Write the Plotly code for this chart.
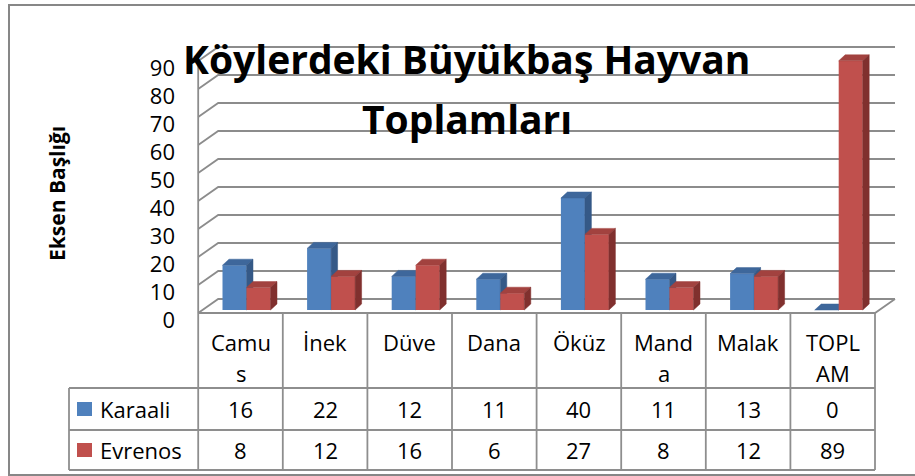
import plotly.graph_objects as go

# ---- data -------------------------------------------------------------
CATEGORIES = ["Camus", "İnek", "Düve", "Dana", "Öküz", "Manda", "Malak", "TOPLAM"]
SERIES_NAMES = ["Karaali", "Evrenos"]
KARAALI = [16, 22, 12, 11, 40, 11, 13, 0]
EVRENOS = [8, 12, 16, 6, 27, 8, 12, 89]
Y_TICKS = [0, 10, 20, 30, 40, 50, 60, 70, 80, 90]
TITLE_LINES = ["Köylerdeki Büyükbaş Hayvan", "Toplamları"]
Y_TITLE = "Eksen Başlığı"

# ---- page / geometry (pixels) ----------------------------------------
W, H = 915, 476
FONT = "Open Sans"
X_COL0, X_STEP = 240.5, 84.6      # pixel centre of first category, column width
Y_FLOOR, Y_UNIT = 313.0, 2.8      # pixel of value 0 on the front plane, px per unit
DOM_PX_X = (190, 910)
DOM_PX_Y = (35, 318)

# depth of the 3D box (back wall offset) in data units
WALL_DX = 20.0 / X_STEP
WALL_DY = 14.0 / Y_UNIT
# bar geometry in data units
BAR_W = 24.0 / X_STEP
BAR_SHIFT = 6.0 / X_STEP
BAR_BASE = 3.0 / Y_UNIT
BAR_DX = 6.5 / X_STEP
BAR_DY = 6.0 / Y_UNIT

BLUE = dict(front="#4F81BD", top="#3E679B", side="#355987")
RED = dict(front="#C0504D", top="#A2423F", side="#80302E")
GRID = "#8C8C8C"
TABLE_LINE = "#8E8E8E"


def px_x(px):
    return px / W


def px_y(py):
    return 1 - py / H


def data_x(px):
    return (px - X_COL0) / X_STEP


def data_y(py):
    return (Y_FLOOR - py) / Y_UNIT


x_range = [data_x(DOM_PX_X[0]), data_x(DOM_PX_X[1])]
y_range = [data_y(DOM_PX_Y[1]), data_y(DOM_PX_Y[0])]
x_domain = [px_x(DOM_PX_X[0]), px_x(DOM_PX_X[1])]
y_domain = [px_y(DOM_PX_Y[1]), px_y(DOM_PX_Y[0])]

# approximate advance widths (em) used to wrap the header cells
CHAR_EM = {"C": .631, "a": .556, "m": .929, "u": .623, "s": .487, "M": .885,
           "n": .623, "d": .613, "l": .253, "k": .525, "T": .567, "O": .781,
           "P": .603, "L": .519, "A": .633, "D": .722, "İ": .29, "e": .561,
           "ü": .623, "v": .502, "Ö": .781, "z": .477}


def wrap_label(text, max_px=66, size=22):
    lines, cur, width = [], "", 0.0
    for ch in text:
        w = CHAR_EM.get(ch, 0.6) * size
        if cur and width + w > max_px:
            lines.append(cur)
            cur, width = "", 0.0
        cur += ch
        width += w
    lines.append(cur)
    return lines


fig = go.Figure()

# ---- walls: floor, left axis, back-wall gridlines --------------------
n = len(CATEGORIES)
left, right = -0.5, n - 0.5
wx, wy = [], []
for v in Y_TICKS:
    # diagonal from the front axis to the back wall, then along the wall
    wx += [left, left + WALL_DX, right + WALL_DX, None]
    wy += [v, v + WALL_DY, v + WALL_DY, None]
wx += [left, left, None]
wy += [Y_TICKS[0], Y_TICKS[-1], None]
# floor outline
wx += [left, right, right + WALL_DX, None]
wy += [0, 0, WALL_DY, None]
fig.add_trace(go.Scatter(x=wx, y=wy, mode="lines", line=dict(color=GRID, width=1.8),
                         hoverinfo="skip", showlegend=False, xaxis="x", yaxis="y"))


def add_series(values, offset, colors, xa, ya):
    centers = [i + BAR_SHIFT + offset for i in range(n)]
    fig.add_trace(go.Bar(x=centers, y=values, base=BAR_BASE, width=BAR_W,
                         marker=dict(color=colors["front"], line=dict(width=0)),
                         hoverinfo="skip", showlegend=False, xaxis=xa, yaxis=ya))
    tx, ty, sx, sy = [], [], [], []
    for c, v in zip(centers, values):
        xl, xr = c - BAR_W / 2, c + BAR_W / 2
        t = v + BAR_BASE
        tx += [xl, xr, xr + BAR_DX, xl + BAR_DX, xl, None]
        ty += [t, t, t + BAR_DY, t + BAR_DY, t, None]
        sx += [xr, xr, xr + BAR_DX, xr + BAR_DX, xr, None]
        sy += [BAR_BASE, t, t + BAR_DY, BAR_BASE + BAR_DY, BAR_BASE, None]
    fig.add_trace(go.Scatter(x=tx, y=ty, mode="lines", fill="toself",
                             fillcolor=colors["top"], line=dict(color=colors["top"], width=0.5),
                             hoverinfo="skip", showlegend=False, xaxis=xa, yaxis=ya))
    fig.add_trace(go.Scatter(x=sx, y=sy, mode="lines", fill="toself",
                             fillcolor=colors["side"], line=dict(color=colors["side"], width=0.5),
                             hoverinfo="skip", showlegend=False, xaxis=xa, yaxis=ya))


add_series(KARAALI, -BAR_W / 2, BLUE, "x2", "y2")
add_series(EVRENOS, BAR_W / 2, RED, "x3", "y3")

hidden = dict(visible=False, range=x_range, fixedrange=True, automargin=False)
fig.update_layout(
    width=W, height=H,
    margin=dict(l=0, r=0, t=0, b=0, autoexpand=False),
    paper_bgcolor="white", plot_bgcolor="rgba(0,0,0,0)",
    showlegend=False,
    xaxis=dict(domain=x_domain, range=x_range, visible=False, automargin=False),
    yaxis=dict(domain=y_domain, range=y_range, tickvals=Y_TICKS, automargin=False,
               ticktext=[str(t) for t in Y_TICKS], showgrid=False, zeroline=False,
               showline=False, ticks="", ticklabelstandoff=14, ticklabelshift=7,
               tickfont=dict(family=FONT, size=22, color="black")),
    xaxis2=dict(hidden, overlaying="x"),
    yaxis2=dict(visible=False, range=y_range, overlaying="y", automargin=False),
    xaxis3=dict(hidden, overlaying="x"),
    yaxis3=dict(visible=False, range=y_range, overlaying="y", automargin=False),
)

annotations = []
# chart title
for text, cy in zip(TITLE_LINES, [58, 118]):
    annotations.append(dict(text=f"<b>{text}</b>", x=px_x(467), y=px_y(cy),
                            xref="paper", yref="paper", showarrow=False,
                            xanchor="center", yanchor="middle",
                            font=dict(family=FONT, size=39, color="black")))
# value axis title
annotations.append(dict(text=f"<b>{Y_TITLE}</b>", x=px_x(57), y=px_y(194),
                        xref="paper", yref="paper", showarrow=False, textangle=-90,
                        xanchor="center", yanchor="middle",
                        font=dict(family=FONT, size=21, color="black")))

# ---- data table -------------------------------------------------------
col_px = [X_COL0 + X_STEP * (i - 0.5) for i in range(n + 1)]
TABLE_LEFT, HEAD_BOTTOM, ROW_MID, TABLE_BOTTOM = 69, 388, 430, 470
shapes = []
line = dict(color=TABLE_LINE, width=1.8)
for xp in col_px:
    shapes.append(dict(type="line", xref="paper", yref="paper", x0=px_x(xp), x1=px_x(xp),
                       y0=px_y(Y_FLOOR), y1=px_y(TABLE_BOTTOM), line=line))
shapes.append(dict(type="line", xref="paper", yref="paper", x0=px_x(TABLE_LEFT),
                   x1=px_x(TABLE_LEFT), y0=px_y(HEAD_BOTTOM), y1=px_y(TABLE_BOTTOM), line=line))
for yp in [HEAD_BOTTOM, ROW_MID, TABLE_BOTTOM]:
    shapes.append(dict(type="line", xref="paper", yref="paper", x0=px_x(TABLE_LEFT),
                       x1=px_x(col_px[-1]), y0=px_y(yp), y1=px_y(yp), line=line))

for i, cat in enumerate(CATEGORIES):
    for k, part in enumerate(wrap_label(cat)):
        annotations.append(dict(text=part, x=i, y=px_y(342 + 31 * k), xref="x", yref="paper",
                                showarrow=False, xanchor="center", yanchor="middle",
                                font=dict(family=FONT, size=22, color="black")))

rows = [(SERIES_NAMES[0], KARAALI, BLUE["front"], 409),
        (SERIES_NAMES[1], EVRENOS, RED["front"], 450)]
for name, vals, color, cy in rows:
    shapes.append(dict(type="rect", xref="paper", yref="paper", x0=px_x(77), x1=px_x(92),
                       y0=px_y(cy - 7), y1=px_y(cy + 7), fillcolor=color, line=dict(width=0)))
    annotations.append(dict(text=name, x=px_x(98), y=px_y(cy), xref="paper", yref="paper",
                            showarrow=False, xanchor="left", yanchor="middle",
                            font=dict(family=FONT, size=22, color="black")))
    for i, v in enumerate(vals):
        annotations.append(dict(text=str(v), x=i, y=px_y(cy), xref="x", yref="paper",
                                showarrow=False, xanchor="center", yanchor="middle",
                                font=dict(family=FONT, size=22, color="black")))

# outer chart frame
shapes.append(dict(type="rect", xref="paper", yref="paper", x0=px_x(9), x1=px_x(922),
                   y0=px_y(475), y1=px_y(5), line=dict(color="#878787", width=2)))

fig.update_layout(annotations=annotations, shapes=shapes)
fig.write_html("out.html")
